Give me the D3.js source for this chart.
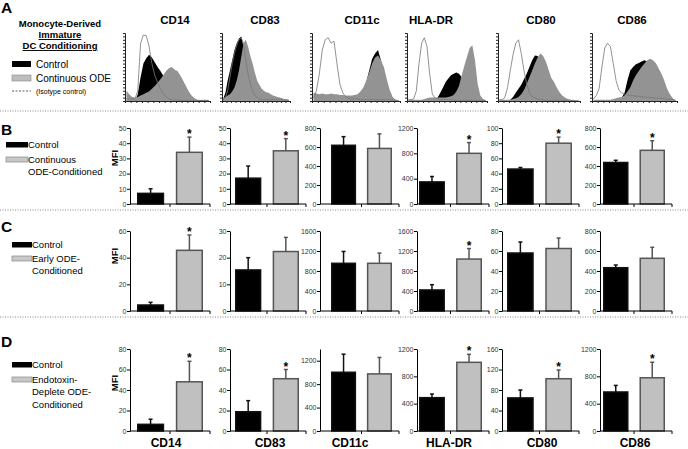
<!DOCTYPE html>
<html>
<head>
<meta charset="utf-8">
<script src="https://cdn.jsdelivr.net/npm/d3@7"></script>
<style>
  body { margin: 0; background: #fff; }
  svg { font-family: "Liberation Sans", Arial, sans-serif; }
</style>
</head>
<body>
<script>
// markers, left to right
var markers = ["CD14", "CD83", "CD11c", "HLA-DR", "CD80", "CD86"];

// A: flow histograms, 30 bins per marker, relative height (0-100)
var histIso = [
  [3,3,3,3,15,85,97,96,80,55,38,27,18,11,6,3,2,1,1,1,1,1,1,1,1,1,1,1,1,1],
  [2,5,15,35,55,70,82,90,93,85,60,40,25,15,8,5,3,2,2,2,2,2,2,2,2,2,2,1,1,1],
  [5,15,40,75,90,93,85,88,55,25,12,6,4,3,3,3,2,2,2,2,2,2,2,2,2,2,2,1,1,1],
  [2,2,3,15,55,85,93,80,40,10,4,3,2,2,2,2,2,1,1,1,1,1,1,1,1,1,1,1,1,1],
  [2,2,5,20,45,68,85,90,70,45,25,12,6,4,3,2,2,1,1,1,1,1,1,1,1,1,1,1,0,0],
  [3,8,18,50,78,85,80,55,30,16,12,10,9,8,8,7,7,6,6,5,5,5,4,4,4,3,3,2,2,1]
];
var histControl = [
  [0,0,0,0,10,35,55,63,68,64,57,50,44,37,30,24,18,12,8,5,3,1,1,1,1,1,1,1,1,1],
  [3,12,30,45,60,75,85,92,95,80,50,35,25,15,10,6,4,3,2,1,1,1,1,1,1,1,1,1,1,1],
  [0,0,0,0,0,0,0,0,0,0,0,0,0,0,0,3,8,15,28,45,62,70,75,60,40,20,8,3,1,0],
  [0,0,0,0,0,0,0,0,0,1,2,5,12,20,28,33,38,40,42,40,35,25,15,8,4,2,1,0,0,0],
  [0,0,0,0,2,6,12,18,24,32,40,50,60,67,66,55,40,25,15,8,4,2,1,0,0,0,0,0,0,0],
  [0,0,0,0,0,0,0,0,0,2,5,12,30,45,50,54,56,58,60,58,52,45,38,30,22,15,8,4,2,0]
];
var histOde = [
  [15,10,6,5,6,8,10,12,14,18,22,27,32,38,44,48,50,46,44,38,30,22,14,8,4,2,1,1,1,1],
  [4,6,8,10,14,20,30,45,65,85,90,80,66,55,42,30,24,18,15,13,12,10,8,7,6,5,4,3,3,2],
  [12,11,10,11,10,10,11,10,10,9,9,8,8,8,9,10,14,20,30,42,55,64,67,60,50,32,16,6,2,1],
  [2,2,2,2,2,2,3,4,5,5,5,5,5,5,5,6,7,9,14,22,38,52,65,78,82,60,25,8,3,1],
  [2,2,2,2,2,3,4,6,10,16,25,35,45,55,64,70,66,58,46,34,28,20,13,8,5,3,2,1,1,1],
  [2,2,2,2,2,2,2,3,4,5,6,8,14,20,30,38,44,50,55,60,62,60,56,48,40,30,18,10,4,1]
];

// B: continuous ODE conditioning (MFI, mean and SEM)
var bControl    = [7, 17, 618, 349, 46, 437];
var bControlSem = [3, 8, 91, 85, 2, 23];
var bOde        = [34, 35, 585, 800, 80, 565];
var bOdeSem     = [10, 8, 153, 170, 8, 101];
var bSig        = [true, true, false, true, true, true];
var bMax        = [50, 50, 800, 1200, 100, 800];
var bStep       = [10, 10, 200, 400, 20, 200];

// C: early ODE conditioning
var cControl    = [4.5, 15.4, 954, 421, 58, 433];
var cControlSem = [2, 4.6, 237, 105, 11, 27];
var cOde        = [45.5, 22.3, 954, 1039, 62.5, 527];
var cOdeSem     = [11.5, 5.3, 204, 210, 10.5, 110];
var cSig        = [true, false, false, true, false, false];
var cMax        = [60, 30, 1600, 1600, 80, 800];
var cStep       = [20, 10, 400, 400, 20, 200];

// D: endotoxin-deplete ODE conditioning
var dControl    = [6.5, 18.8, 1003, 488, 64.6, 571];
var dControlSem = [5, 10.8, 309, 53, 15.4, 96];
var dOde        = [48, 51, 975, 1005, 102, 779];
var dOdeSem     = [20, 9, 281, 117, 17, 227];
var dSig        = [true, true, false, true, true, true];
var dMax        = [80, 80, 1400, 1200, 160, 1200];
var dStep       = [20, 20, 400, 400, 40, 400];

var w = 688, h = 449;
var svg = d3.select("body").append("svg")
    .attr("width", w)
    .attr("height", h);

// panel letters
[["A", 13], ["B", 135], ["C", 232], ["D", 347]].forEach(function(l) {
  svg.append("text").attr("x", 1).attr("y", l[1])
     .attr("font-size", 15.5).attr("font-weight", "bold").text(l[0]);
});

// dotted separators
[111, 210, 317].forEach(function(y) {
  svg.append("line").attr("x1", 0).attr("x2", w).attr("y1", y).attr("y2", y)
     .attr("stroke", "#888").attr("stroke-width", 1).attr("stroke-dasharray", "1,1.5");
});

// ---------- A: histograms ----------
var histX0 = [125, 222, 312, 407, 498, 592];
var histX1 = [210, 290, 400, 487, 580, 677];
var histTop = 33, histBottom = 101;
var headerX = [175, 265, 362, 431, 541, 632];

markers.forEach(function(m, i) {
  svg.append("text").attr("x", headerX[i]).attr("y", 24)
     .attr("text-anchor", "middle").attr("font-size", 11.5).attr("font-weight", "bold")
     .text(m);

  var nb = histIso[i].length;
  var x = d3.scaleLinear().domain([0, nb]).range([histX0[i], histX1[i]]);
  var y = d3.scaleLinear().domain([0, 100]).range([histBottom, histTop]);
  var g = svg.append("g");

  var area = d3.area()
      .x(function(d, j) { return x(j + 0.5); })
      .y0(histBottom)
      .y1(function(d) { return y(d); });
  var line = d3.line()
      .x(function(d, j) { return x(j + 0.5); })
      .y(function(d) { return y(d); });

  g.append("path").datum(histControl[i]).attr("d", area).attr("fill", "#000");
  g.append("path").datum(histOde[i]).attr("d", area).attr("fill", "#939393");
  g.append("path").datum(histIso[i]).attr("d", line)
   .attr("fill", "none").attr("stroke", "#777").attr("stroke-width", 0.8);

  g.append("g").attr("transform", "translate(" + histX0[i] + ",0)")
   .call(d3.axisLeft(y).ticks(20).tickSize(2).tickFormat(""))
   .call(function(a) { a.selectAll("path,line").attr("stroke", "#222"); });
  g.append("g").attr("transform", "translate(0," + histBottom + ")")
   .call(d3.axisBottom(x).ticks(20).tickSize(2).tickFormat(""))
   .call(function(a) { a.selectAll("path,line").attr("stroke", "#222"); });
});

// legend A
svg.append("text").attr("x", 60).attr("y", 27).attr("text-anchor", "middle")
   .attr("font-size", 9.5).attr("font-weight", "bold").text("Monocyte-Derived");
svg.append("text").attr("x", 60).attr("y", 38).attr("text-anchor", "middle")
   .attr("font-size", 9.5).attr("font-weight", "bold").attr("text-decoration", "underline").text("Immature");
svg.append("text").attr("x", 60).attr("y", 49).attr("text-anchor", "middle")
   .attr("font-size", 9.5).attr("font-weight", "bold").attr("text-decoration", "underline").text("DC Conditioning");
svg.append("rect").attr("x", 12).attr("y", 61).attr("width", 19).attr("height", 6).attr("fill", "#000");
svg.append("text").attr("x", 36).attr("y", 67.5).attr("font-size", 10).text("Control");
svg.append("rect").attr("x", 12).attr("y", 75).attr("width", 19).attr("height", 6)
   .attr("fill", "#bdbdbd").attr("stroke", "#888").attr("stroke-width", 0.6);
svg.append("text").attr("x", 36).attr("y", 81.5).attr("font-size", 10).text("Continuous ODE");
svg.append("line").attr("x1", 12).attr("x2", 31).attr("y1", 91).attr("y2", 91)
   .attr("stroke", "#333").attr("stroke-width", 0.8).attr("stroke-dasharray", "2,1.5");
svg.append("text").attr("x", 36).attr("y", 93.5).attr("font-size", 7).text("(Isotype control)");

// ---------- B, C, D: MFI bar charts ----------
var axisX = [130, 230, 320, 417, 502, 600];
var barRange = [[137, 203], [235, 299], [331, 392], [419, 482], [507, 572], [603, 665]];

function drawRow(zeroY, topY, ctrl, ctrlSem, ode, odeSem, sig, maxv, step) {
  markers.forEach(function(m, i) {
    var g = svg.append("g");
    var y = d3.scaleLinear().domain([0, maxv[i]]).range([zeroY, topY]);
    var x = d3.scaleBand().domain(["Control", "ODE"])
        .range(barRange[i]).paddingInner(0.3).paddingOuter(0);
    var ticks = d3.range(0, maxv[i] + 0.001, step[i]);

    var rows = [
      {k: "Control", v: ctrl[i], e: ctrlSem[i], fill: "#000", stroke: "#111", ecol: "#111"},
      {k: "ODE", v: ode[i], e: odeSem[i], fill: "#c0c0c0", stroke: "#555", ecol: "#555"}
    ];

    // error bars (drawn behind the bar top)
    rows.forEach(function(r) {
      var cx = x(r.k) + x.bandwidth() / 2;
      g.append("line").attr("x1", cx).attr("x2", cx)
       .attr("y1", y(r.v)).attr("y2", y(r.v + r.e))
       .attr("stroke", r.ecol).attr("stroke-width", 1.5);
      g.append("line").attr("x1", cx - 2).attr("x2", cx + 2)
       .attr("y1", y(r.v + r.e)).attr("y2", y(r.v + r.e))
       .attr("stroke", r.ecol).attr("stroke-width", 1.5);
    });

    g.selectAll("rect.bar").data(rows).enter().append("rect")
     .attr("class", "bar")
     .attr("x", function(d) { return x(d.k) + 0.75; })
     .attr("y", function(d) { return y(d.v); })
     .attr("width", x.bandwidth() - 1.5)
     .attr("height", function(d) { return zeroY - y(d.v); })
     .attr("fill", function(d) { return d.fill; })
     .attr("stroke", function(d) { return d.stroke; })
     .attr("stroke-width", 1.5);

    if (sig[i]) {
      var r = rows[1];
      g.append("text").attr("x", x("ODE") + x.bandwidth() / 2)
       .attr("y", y(r.v + r.e) + 1)
       .attr("text-anchor", "middle").attr("font-size", 12).attr("font-weight", "bold")
       .text("*");
    }

    // axes
    var yAxis = d3.axisLeft(y).tickValues(ticks).tickSize(3).tickSizeOuter(0)
        .tickFormat(d3.format("d"));
    g.append("g").attr("transform", "translate(" + axisX[i] + ",0)")
     .call(yAxis)
     .call(function(a) {
       a.selectAll("path,line").attr("stroke", "#000").attr("stroke-width", 1);
       a.selectAll("text").attr("font-size", 7).attr("fill", "#333")
        .attr("font-family", "Liberation Sans, Arial, sans-serif").attr("x", -3.5);
     });
    var xEnd = barRange[i][1] + 7;
    g.append("line").attr("x1", axisX[i]).attr("x2", xEnd)
     .attr("y1", zeroY).attr("y2", zeroY).attr("stroke", "#000").attr("stroke-width", 1);
    var mid = (x("Control") + x.bandwidth() + x("ODE")) / 2;
    g.append("line").attr("x1", mid).attr("x2", mid)
     .attr("y1", zeroY).attr("y2", zeroY + 3).attr("stroke", "#000");
    g.append("line").attr("x1", xEnd).attr("x2", xEnd)
     .attr("y1", zeroY).attr("y2", zeroY + 3).attr("stroke", "#000");
  });
}

drawRow(204, 128, bControl, bControlSem, bOde, bOdeSem, bSig, bMax, bStep);
drawRow(311, 231, cControl, cControlSem, cOde, cOdeSem, cSig, cMax, cStep);
drawRow(431, 349, dControl, dControlSem, dOde, dOdeSem, dSig, dMax, dStep);

// MFI labels
[158, 256, 383].forEach(function(cy) {
  svg.append("text").attr("transform", "translate(118," + cy + ") rotate(-90)")
     .attr("text-anchor", "middle").attr("font-size", 9.5).attr("font-weight", "bold").text("MFI");
});

// bottom marker labels
var bottomX = [166, 270, 350, 449, 542, 635];
markers.forEach(function(m, i) {
  svg.append("text").attr("x", bottomX[i]).attr("y", 447)
     .attr("text-anchor", "middle").attr("font-size", 12).attr("font-weight", "bold").text(m);
});

// legends B, C, D
function legend(blackY, grayY, tx, lines, x0, x1) {
  svg.append("rect").attr("x", x0).attr("y", blackY).attr("width", x1 - x0).attr("height", 5.5).attr("fill", "#000");
  svg.append("text").attr("x", tx).attr("y", blackY + 6).attr("font-size", 9.5).text("Control");
  svg.append("rect").attr("x", x0).attr("y", grayY).attr("width", x1 - x0).attr("height", 5)
     .attr("fill", "#c8c8c8").attr("stroke", "#888").attr("stroke-width", 0.7);
  lines.forEach(function(t, j) {
    svg.append("text").attr("x", tx).attr("y", grayY + 5.5 + j * 12.5).attr("font-size", 9.5).text(t);
  });
}
legend(142, 157, 28, ["Continuous", "ODE-Conditioned"], 6, 28);
legend(242, 256, 32, ["Early ODE-", "Conditioned"], 12, 32);
legend(362, 377, 32, ["Endotoxin-", "Deplete ODE-", "Conditioned"], 12, 32);
</script>
</body>
</html>
